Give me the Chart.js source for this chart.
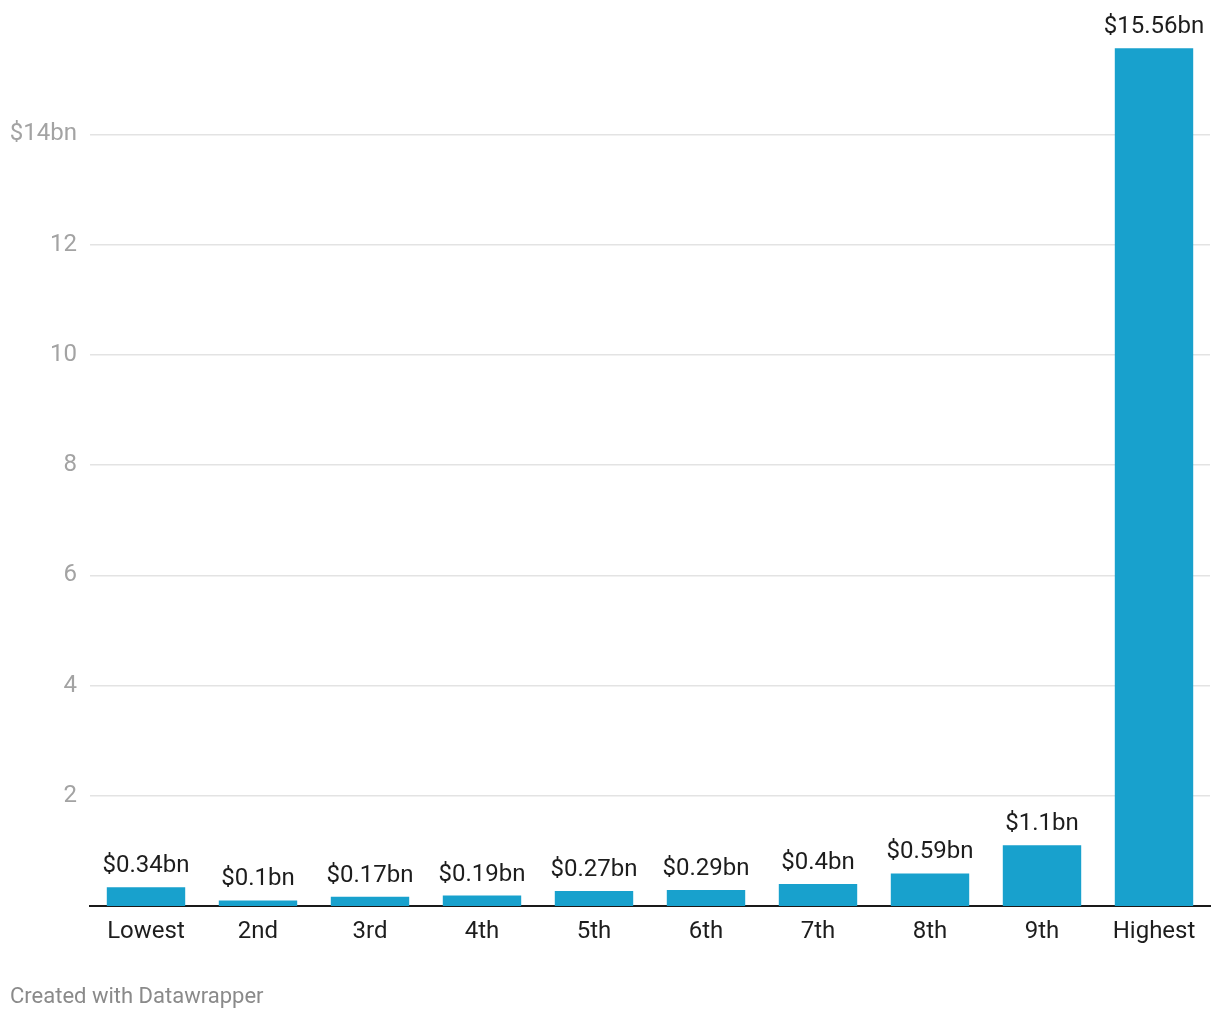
<!DOCTYPE html>
<html>
<head>
<meta charset="utf-8">
<script src="https://cdn.jsdelivr.net/npm/chart.js@4/dist/chart.umd.min.js"></script>
<style>
  body { margin: 0; background: #fff; font-family: Roboto, sans-serif; }
  #wrap { position: relative; width: 1220px; height: 1020px; }
  #footer { position: absolute; left: 10px; top: 983px; font-size: 22px; color: #8a8a8a; line-height: 26px; }
</style>
</head>
<body>
<div id="wrap">
  <canvas id="graphCanvas" width="1220" height="1020"></canvas>
  <div id="footer">Created with Datawrapper</div>
</div>
<script>
// Categories and values (billions of dollars)
const categories = ['Lowest', '2nd', '3rd', '4th', '5th', '6th', '7th', '8th', '9th', 'Highest'];
const values = [0.34, 0.1, 0.17, 0.19, 0.27, 0.29, 0.4, 0.59, 1.1, 15.56];
const valueLabels = ['$0.34bn', '$0.1bn', '$0.17bn', '$0.19bn', '$0.27bn', '$0.29bn', '$0.4bn', '$0.59bn', '$1.1bn', '$15.56bn'];
const yTicks = [2, 4, 6, 8, 10, 12, 14];

// Draw the value labels above each bar
const barLabels = {
    id: 'barLabels',
    afterDatasetsDraw(chart) {
        const ctx = chart.ctx;
        const meta = chart.getDatasetMeta(0);
        ctx.save();
        ctx.font = '24px Roboto';
        ctx.fillStyle = '#1d1d1d';
        ctx.textAlign = 'center';
        ctx.textBaseline = 'alphabetic';
        meta.data.forEach((bar, i) => {
            ctx.fillText(valueLabels[i], bar.x, bar.y - 15);
        });
        ctx.restore();
    }
};

const ctx = document.getElementById('graphCanvas').getContext('2d');
new Chart(ctx, {
    type: 'bar',
    data: {
        labels: categories,
        datasets: [{
            data: values,
            backgroundColor: '#18a1cd',
            borderWidth: 0,
            categoryPercentage: 1,
            barPercentage: 0.7
        }]
    },
    options: {
        responsive: false,
        animation: false,
        layout: { padding: { top: 20, right: 10, left: 0, bottom: 0 } },
        plugins: {
            legend: { display: false },
            tooltip: { enabled: false }
        },
        scales: {
            x: {
                grid: { display: false, drawTicks: false },
                border: { display: true, color: '#1a1a1a', width: 2 },
                ticks: {
                    color: '#1d1d1d',
                    font: { family: 'Roboto', size: 24 },
                    padding: 12,
                    maxRotation: 0
                },
                afterFit: function(scale) {
                    scale.height = 114;
                }
            },
            y: {
                min: 0,
                max: 15.94,
                afterBuildTicks: function(scale) {
                    scale.ticks = yTicks.map(v => ({ value: v }));
                },
                grid: {
                    color: '#e3e3e3',
                    lineWidth: 1.5,
                    drawTicks: false
                },
                border: { display: false },
                ticks: {
                    color: '#a3a3a3',
                    font: { family: 'Roboto', size: 24 },
                    padding: 13,
                    callback: function(value) {
                        return value === 14 ? '$14bn' : String(value);
                    }
                },
                afterFit: function(scale) {
                    scale.width = 90;
                }
            }
        }
    },
    plugins: [barLabels]
});
</script>
</body>
</html>
